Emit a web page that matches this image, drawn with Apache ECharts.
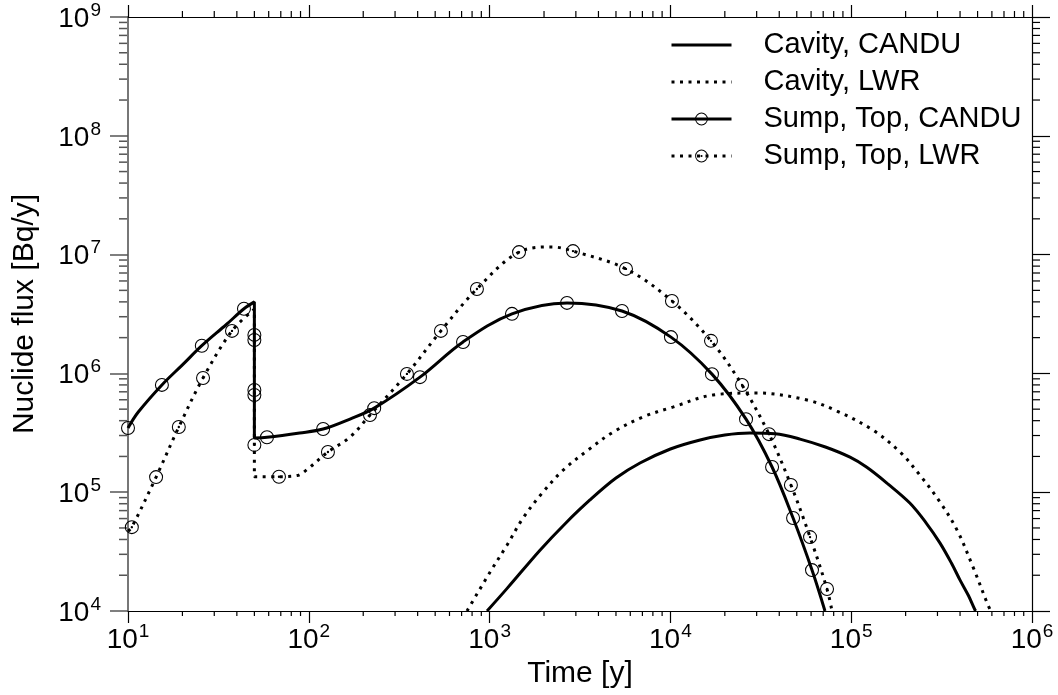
<!DOCTYPE html>
<html>
<head>
<meta charset="utf-8">
<script src="https://cdn.jsdelivr.net/npm/echarts@6/dist/echarts.min.js"></script>
<style>html,body{margin:0;padding:0;background:#fff}#c{width:1058px;height:695px}</style>
</head>
<body>
<div id="c"></div>
<script>
// ---- data ----
const xTickValues = [10, 100, 1000, 10000, 100000, 1000000];
const yTickValues = [1e4, 1e5, 1e6, 1e7, 1e8, 1e9];

const cavCanduT = [968, 1250, 1900, 2600, 3590, 5000, 6790, 10000, 14600, 20000, 27500, 38000, 52100, 72000, 98500, 122000, 160000, 211000, 260000, 310000, 360000, 400000, 445000, 484000, 490000];
const cavCanduF = [1.0e4, 1.55e4, 3.25e4, 5.38e4, 8.6e4, 1.315e5, 1.76e5, 2.31e5, 2.75e5, 3.03e5, 3.15e5, 3.1e5, 2.8e5, 2.4e5, 1.97e5, 1.62e5, 1.17e5, 8.1e4, 5.5e4, 3.73e4, 2.5e4, 1.82e4, 1.35e4, 1.02e4, 1.0e4];

const cavLwrT = [750, 1005, 1247, 1530, 1950, 2547, 3500, 4815, 7050, 10300, 17200, 30100, 57000, 83400, 132000, 186000, 240000, 310000, 385000, 472000, 571000, 593000];
const cavLwrF = [1.0e4, 2.12e4, 3.58e4, 6.05e4, 9.8e4, 1.53e5, 2.26e5, 3.2e5, 4.3e5, 5.2e5, 6.58e5, 6.84e5, 5.97e5, 4.82e5, 3.33e5, 2.18e5, 1.39e5, 8.26e4, 4.8e4, 2.34e4, 1.12e4, 1.0e4];

const sumpCanduT = [10, 11.4, 15.4, 20, 25.6, 35, 43.8, 50, 50, 50, 50, 50, 50, 58.7, 89, 120, 169, 230, 412, 713, 1330, 2680, 5400, 10070, 16980, 26200, 36500, 47700, 60700, 71600];
const sumpCanduF = [3.47e5, 4.73e5, 8.0e5, 1.18e6, 1.71e6, 2.58e6, 3.5e6, 4.0e6, 2.11e6, 1.91e6, 7.25e5, 6.58e5, 2.86e5, 2.9e5, 3.15e5, 3.4e5, 4.13e5, 5.1e5, 9.3e5, 1.84e6, 3.17e6, 3.92e6, 3.35e6, 2.02e6, 9.86e5, 4.12e5, 1.63e5, 6.06e4, 2.21e4, 1.0e4];
const sumpCanduMark = [1, 0, 1, 0, 1, 0, 1, 0, 1, 1, 1, 1, 0, 1, 0, 1, 0, 1, 1, 1, 1, 1, 1, 1, 1, 1, 1, 1, 1, 0];

const sumpLwrT = [10, 10.5, 14.3, 19.1, 26.0, 37.6, 50, 50, 50, 68.4, 86, 97.7, 127.6, 169, 218, 349, 538, 851, 1455, 2214, 2892, 5680, 10200, 16770, 24900, 35100, 46400, 59200, 73500, 78300];
const sumpLwrF = [4.7e4, 5.08e4, 1.34e5, 3.54e5, 9.15e5, 2.28e6, 3.48e6, 2.5e5, 1.35e5, 1.35e5, 1.38e5, 1.55e5, 2.18e5, 2.91e5, 4.46e5, 9.9e5, 2.28e6, 5.14e6, 1.05e7, 1.16e7, 1.07e7, 7.58e6, 4.07e6, 1.88e6, 7.98e5, 3.08e5, 1.15e5, 4.19e4, 1.53e4, 1.0e4];
const sumpLwrMark = [0, 1, 1, 1, 1, 1, 0, 1, 0, 1, 0, 0, 1, 0, 1, 1, 1, 1, 1, 0, 1, 1, 1, 1, 1, 1, 1, 1, 1, 0];

const seriesNames = ['Cavity, CANDU', 'Cavity, LWR', 'Sump, Top, CANDU', 'Sump, Top, LWR'];
const xTitle = 'Time [y]';
const yTitle = 'Nuclide flux [Bq/y]';

// ---- styling ----
const FONT = "'Liberation Sans', Arial, Helvetica, sans-serif";
const RING = 'path://M10,0A10,10,0,1,1,-10,0A10,10,0,1,1,10,0ZM8.5,0A8.5,8.5,0,1,0,-8.5,0A8.5,8.5,0,1,0,8.5,0Z';
const RING_DOT = RING + 'M1.7,0A1.7,1.7,0,1,1,-1.7,0A1.7,1.7,0,1,1,1.7,0Z';
const DOTTED = [3, 5.5];
const SMOOTH = 0.35;

function pairs(T, F) { return T.map((t, i) => [t, F[i]]); }
function marked(T, F, M) {
  return T.map((t, i) => M[i] ? { value: [t, F[i]] } : { value: [t, F[i]], symbol: 'none' });
}
function expLabel(v) {
  const e = Math.round(Math.log10(v));
  return '{b|10}{s|' + e + '}';
}
const rich = {
  b: { fontSize: 28, fontFamily: FONT, color: '#000', verticalAlign: 'bottom', lineHeight: 32 },
  s: { fontSize: 19, fontFamily: FONT, color: '#000', verticalAlign: 'top', lineHeight: 19, padding: [0, 0, 0, 1] }
};

const chart = echarts.init(document.getElementById('c'), null, { renderer: 'canvas' });

const logAxisBase = {
  type: 'log', logBase: 10, interval: 1,
  splitLine: { show: false },
  axisLine: { show: true, lineStyle: { color: '#000', width: 1.2 } },
  axisTick: { show: true, inside: false, lineStyle: { color: '#000', width: 1.2 } },
  minorTick: { show: false }
};

const option = {
  animation: false,
  backgroundColor: '#fff',
  textStyle: { fontFamily: FONT },
  grid: { left: 128, right: 26, top: 17, bottom: 84, containLabel: false, outerBoundsMode: 'none' },
  xAxis: [
    Object.assign({}, logAxisBase, {
      position: 'bottom', min: xTickValues[0], max: xTickValues[xTickValues.length - 1],
      axisTick: { show: true, inside: false, length: 12, lineStyle: { color: '#000', width: 1.2 } },
      axisLabel: { show: true, margin: 11, formatter: expLabel, rich: rich },
      name: xTitle, nameLocation: 'middle', nameGap: 44,
      nameTextStyle: { fontSize: 30, fontFamily: FONT, color: '#000' }
    }),
    Object.assign({}, logAxisBase, {
      position: 'top', min: xTickValues[0], max: xTickValues[xTickValues.length - 1],
      axisTick: { show: true, inside: false, length: 12, lineStyle: { color: '#000', width: 1.2 } },
      axisLabel: { show: false }
    })
  ],
  yAxis: [
    Object.assign({}, logAxisBase, {
      position: 'left', min: yTickValues[0], max: yTickValues[yTickValues.length - 1],
      axisLine: { show: true, lineStyle: { color: '#777', width: 2 } },
      axisTick: { show: true, inside: false, length: 18, lineStyle: { color: '#555', width: 1.5 } },
      axisLabel: { show: true, margin: 27, formatter: expLabel, rich: rich },
      name: yTitle, nameLocation: 'middle', nameGap: 88, nameRotate: 90,
      nameTextStyle: { fontSize: 30, fontFamily: FONT, color: '#000' }
    }),
    Object.assign({}, logAxisBase, {
      position: 'right', min: yTickValues[0], max: yTickValues[yTickValues.length - 1],
      axisTick: { show: true, inside: false, length: 18, lineStyle: { color: '#000', width: 1.2 } },
      axisLabel: { show: false }
    })
  ],
  legend: {
    orient: 'vertical', left: 670, top: 30, padding: 0,
    itemWidth: 60, itemHeight: 16, itemGap: 7,
    lineStyle: { width: 3 },
    textStyle: { fontSize: 29, fontFamily: FONT, color: '#000', lineHeight: 30, padding: [0, 0, 0, 27] },
    data: [
      { name: seriesNames[0], itemStyle: { opacity: 0 } },
      { name: seriesNames[1], itemStyle: { opacity: 0 } },
      { name: seriesNames[2] },
      { name: seriesNames[3] }
    ]
  },
  series: [
    {
      name: seriesNames[0], type: 'line', data: pairs(cavCanduT, cavCanduF),
      symbol: 'none', smooth: SMOOTH,
      lineStyle: { color: '#000', width: 3 }, itemStyle: { color: '#000' },
      emphasis: { disabled: true }
    },
    {
      name: seriesNames[1], type: 'line', data: pairs(cavLwrT, cavLwrF),
      symbol: 'none', smooth: SMOOTH,
      lineStyle: { color: '#000', width: 3, type: DOTTED, cap: 'butt' }, itemStyle: { color: '#000' },
      emphasis: { disabled: true }
    },
    {
      name: seriesNames[2], type: 'line', data: marked(sumpCanduT, sumpCanduF, sumpCanduMark),
      symbol: RING, symbolSize: 14, showSymbol: true, smooth: SMOOTH,
      lineStyle: { color: '#000', width: 3 }, itemStyle: { color: '#000', borderWidth: 0 },
      emphasis: { disabled: true }
    },
    {
      name: seriesNames[3], type: 'line', data: marked(sumpLwrT, sumpLwrF, sumpLwrMark),
      symbol: RING_DOT, symbolSize: 14, showSymbol: true, smooth: SMOOTH,
      lineStyle: { color: '#000', width: 3, type: DOTTED, cap: 'butt' }, itemStyle: { color: '#000', borderWidth: 0 },
      emphasis: { disabled: true }
    }
  ]
};
chart.setOption(option);

// minor ticks at 2..9 x 10^n, positioned through the axes' own scales
function minorTicks() {
  const g = [];
  const xMin = xTickValues[0], xMax = xTickValues[xTickValues.length - 1];
  const yMin = yTickValues[0], yMax = yTickValues[yTickValues.length - 1];
  const yb = chart.convertToPixel({ yAxisIndex: 0 }, yMin);
  const yt = chart.convertToPixel({ yAxisIndex: 0 }, yMax);
  const xl = chart.convertToPixel({ xAxisIndex: 0 }, xMin);
  const xr = chart.convertToPixel({ xAxisIndex: 0 }, xMax);
  for (let i = 0; i < xTickValues.length - 1; i++) {
    for (let k = 2; k <= 9; k++) {
      const px = chart.convertToPixel({ xAxisIndex: 0 }, k * xTickValues[i]);
      g.push({ type: 'line', silent: true, shape: { x1: px, y1: yb, x2: px, y2: yb + 5 }, style: { stroke: '#000', lineWidth: 1.2 } });
      g.push({ type: 'line', silent: true, shape: { x1: px, y1: yt, x2: px, y2: yt - 6 }, style: { stroke: '#000', lineWidth: 1.2 } });
    }
  }
  for (let i = 0; i < yTickValues.length - 1; i++) {
    for (let k = 2; k <= 9; k++) {
      const py = chart.convertToPixel({ yAxisIndex: 0 }, k * yTickValues[i]);
      g.push({ type: 'line', silent: true, shape: { x1: xl, y1: py, x2: xl - 9, y2: py }, style: { stroke: '#555', lineWidth: 1.5 } });
      g.push({ type: 'line', silent: true, shape: { x1: xr, y1: py, x2: xr + 8, y2: py }, style: { stroke: '#000', lineWidth: 1.2 } });
    }
  }
  chart.setOption({ graphic: g });
}
minorTicks();
</script>
</body>
</html>
